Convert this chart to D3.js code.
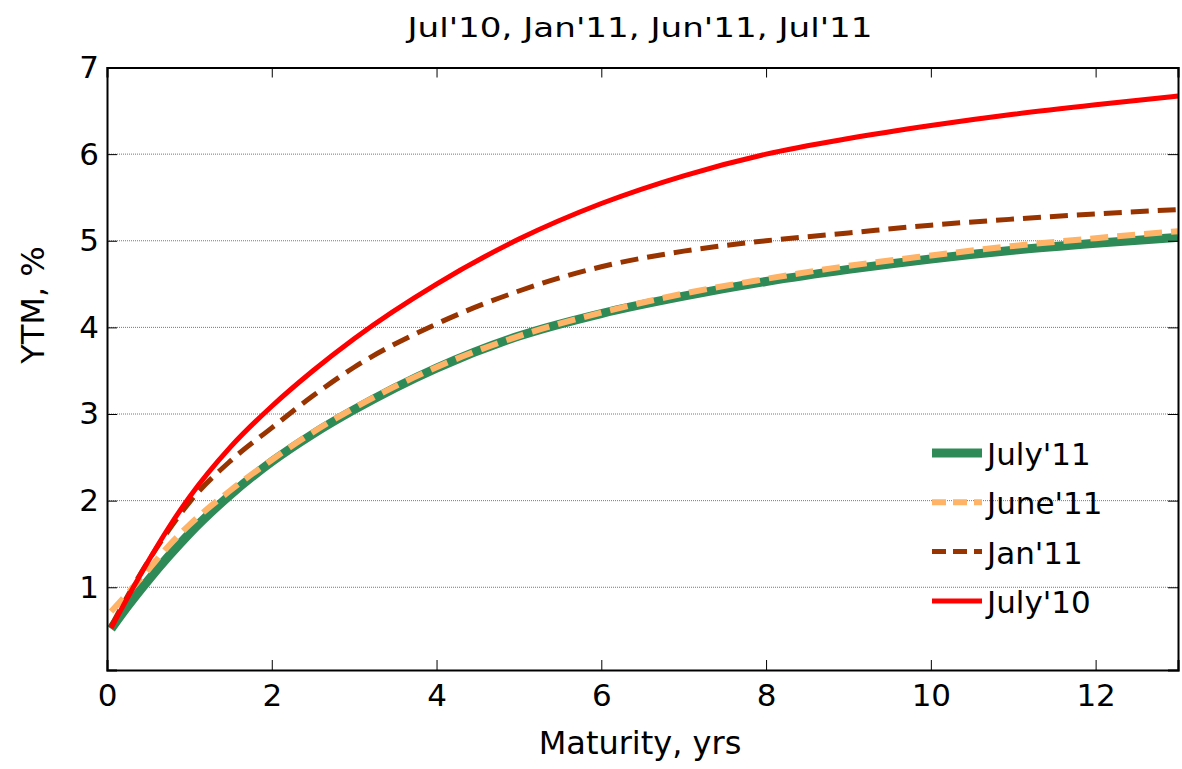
<!DOCTYPE html>
<html>
<head>
  <meta charset="utf-8">
  <title>YTM curves</title>
  <style>
    body { margin: 0; background: #fff; }
    text { font-family: "DejaVu Sans", Verdana, sans-serif; fill: #000; }
  </style>
</head>
<body>
  <svg width="1182" height="769"></svg>
  <script src="https://d3js.org/d3.v7.min.js"></script>
  <script>
    // data
    var maturity = [0.05, 0.25, 0.5, 0.75, 1, 1.5, 2, 2.5, 3, 4, 5, 6, 7, 8, 9, 10, 11, 12, 13];
    var july10 = [0.53, 0.88, 1.3, 1.69, 2.04, 2.62, 3.09, 3.5, 3.87, 4.5, 5.02, 5.43, 5.75, 6.0, 6.18, 6.33, 6.46, 6.57, 6.67];
    var jan11  = [0.55, 0.9, 1.3, 1.66, 1.98, 2.46, 2.84, 3.21, 3.54, 4.04, 4.42, 4.7, 4.88, 5.0, 5.09, 5.18, 5.25, 5.31, 5.36];
    var june11 = [0.72, 0.93, 1.2, 1.48, 1.72, 2.12, 2.47, 2.79, 3.07, 3.54, 3.9, 4.17, 4.39, 4.56, 4.71, 4.83, 4.94, 5.03, 5.11];
    var july11 = [0.52, 0.78, 1.08, 1.36, 1.62, 2.07, 2.45, 2.77, 3.05, 3.53, 3.9, 4.16, 4.36, 4.53, 4.67, 4.79, 4.89, 4.97, 5.04];
    var xTicks = [0, 2, 4, 6, 8, 10, 12];
    var yTicks = [1, 2, 3, 4, 5, 6, 7];

    var series = [
      { name: "July'10", values: july10, color: "#ff0000", width: 5, dash: null },
      { name: "Jan'11", values: jan11, color: "#993300", width: 5, dash: "18,9" },
      { name: "June'11", values: june11, color: "#ffb366", width: 6, dash: "18,9" },
      { name: "July'11", values: july11, color: "#2e8b57", width: 9, dash: null }
    ];
    // green at the bottom, red on top
    var drawOrder = [series[3], series[1], series[2], series[0]];
    var legendOrder = [series[3], series[2], series[1], series[0]];

    var svg = d3.select("svg");
    var pLeft = 107, pRight = 1178, pTop = 67.5, pBottom = 670;

    var x = d3.scaleLinear().domain([0, 13]).range([pLeft, pRight]);
    var y = d3.scaleLinear().domain([0.045, 7]).range([pBottom, pTop]);

    // grid lines
    svg.append("g")
      .selectAll("line")
      .data(yTicks.filter(function (d) { return d < 7; }))
      .enter()
      .append("line")
      .attr("x1", pLeft).attr("x2", pRight)
      .attr("y1", function (d) { return y(d); })
      .attr("y2", function (d) { return y(d); })
      .attr("stroke", "#777")
      .attr("stroke-width", 1)
      .attr("stroke-dasharray", "1,1");

    // lines
    var line = d3.line()
      .x(function (d) { return x(d[0]); })
      .y(function (d) { return y(d[1]); })
      .curve(d3.curveMonotoneX);

    svg.append("g")
      .selectAll("path")
      .data(drawOrder)
      .enter()
      .append("path")
      .attr("d", function (s) {
        return line(maturity.map(function (m, i) { return [m, s.values[i]]; }));
      })
      .attr("fill", "none")
      .attr("stroke", function (s) { return s.color; })
      .attr("stroke-width", function (s) { return s.width; })
      .attr("stroke-dasharray", function (s) { return s.dash; });

    // axes (ticks inside, box)
    var tickLen = 10;
    svg.append("g")
      .attr("transform", "translate(0," + pBottom + ")")
      .call(d3.axisBottom(x).tickValues(xTicks).tickSize(-tickLen).tickPadding(14).tickFormat(d3.format("d")))
      .call(function (g) {
        g.select(".domain").attr("stroke-width", 2);
        g.selectAll("text").style("font-size", "31px").style("font-family", "DejaVu Sans, Verdana, sans-serif");
      });
    svg.append("g")
      .attr("transform", "translate(0," + pTop + ")")
      .call(d3.axisTop(x).tickValues(xTicks).tickSize(-tickLen).tickFormat(""))
      .call(function (g) { g.select(".domain").attr("stroke-width", 2); });
    svg.append("g")
      .attr("transform", "translate(" + pLeft + ",0)")
      .call(d3.axisLeft(y).tickValues(yTicks).tickSize(-tickLen).tickPadding(8).tickFormat(d3.format("d")))
      .call(function (g) {
        g.select(".domain").attr("stroke-width", 2);
        g.selectAll("text").style("font-size", "31px").style("font-family", "DejaVu Sans, Verdana, sans-serif");
      });
    svg.append("g")
      .attr("transform", "translate(" + pRight + ",0)")
      .call(d3.axisRight(y).tickValues(yTicks).tickSize(-tickLen).tickFormat(""))
      .call(function (g) { g.select(".domain").attr("stroke-width", 2); });

    svg.selectAll(".domain").attr("stroke", "#000");

    // title and axis labels
    svg.append("text")
      .attr("x", 640).attr("y", 37)
      .attr("text-anchor", "middle")
      .style("font-size", "26px")
      .attr("textLength", 465)
      .attr("lengthAdjust", "spacingAndGlyphs")
      .text("Jul'10, Jan'11, Jun'11, Jul'11");

    svg.append("text")
      .attr("x", 640).attr("y", 754)
      .attr("text-anchor", "middle")
      .style("font-size", "32px")
      .text("Maturity, yrs");

    svg.append("text")
      .attr("transform", "translate(44,305) rotate(-90)")
      .attr("text-anchor", "middle")
      .style("font-size", "32px")
      .text("YTM, %");

    // legend
    var legend = svg.append("g")
      .selectAll("g")
      .data(legendOrder)
      .enter()
      .append("g")
      .attr("transform", function (d, i) { return "translate(932," + (453 + i * 49.3) + ")"; });

    legend.append("line")
      .attr("x1", 0).attr("x2", 50)
      .attr("stroke", function (s) { return s.color; })
      .attr("stroke-width", function (s) { return s.width; })
      .attr("stroke-dasharray", function (s) { return s.dash ? "14,7" : null; });

    legend.append("text")
      .attr("x", 55).attr("y", 12)
      .style("font-size", "31px")
      .text(function (s) { return s.name; });
  </script>
</body>
</html>
